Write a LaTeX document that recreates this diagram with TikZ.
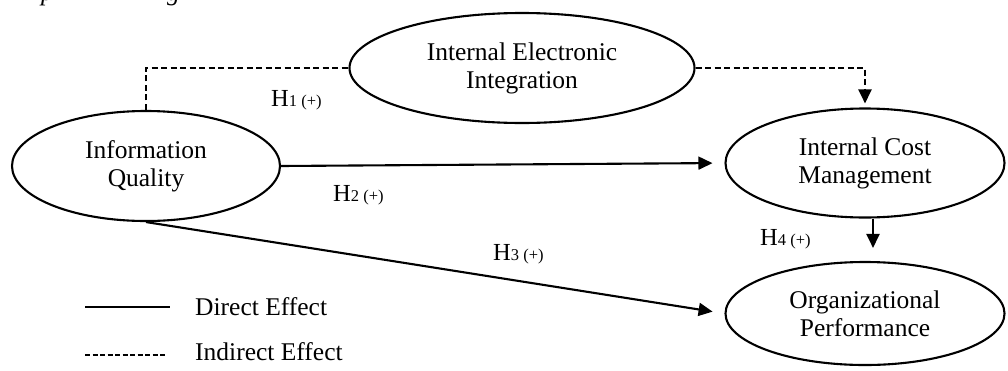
\documentclass[tikz,border=0pt]{standalone}
\usepackage{fontspec}
\setmainfont{Liberation Serif}
\usetikzlibrary{shapes.geometric,arrows.meta}
\begin{document}
\begin{tikzpicture}[x=1pt,y=-1pt,
  ell/.style={draw, ellipse, line width=2.1pt, inner sep=0pt, align=center,
    font=\fontsize{25.5}{28}\selectfont},
  conn/.style={line width=2.1pt, -{Triangle[width=13pt,length=14pt]}},
  dconn/.style={line width=2.1pt, dash pattern=on 6pt off 3.5pt},
  hlab/.style={anchor=base west, inner sep=0pt, font=\fontsize{24.5}{28}\selectfont},
  leg/.style={anchor=base west, inner sep=0pt, font=\fontsize{25.5}{28}\selectfont},
  frag/.style={anchor=base west, inner sep=0pt, font=\itshape\fontsize{25.5}{28}\selectfont}
]
\useasboundingbox (0,0) rectangle (1008,370);

% clipped caption fragments (cut off at the top edge, as in the reference)
\node[frag] (fp) at (41,0.5) {p};
\node[frag] (fg) at (167,0.5) {g};

\node[ell, minimum width=268pt, minimum height=110pt] (IQ) at (146,166) {Information\\Quality};
\node[ell, minimum width=345pt, minimum height=110pt] (IEI) at (522,68) {Internal Electronic\\Integration};
\node[ell, minimum width=279pt, minimum height=109pt] (ICM) at (865,163) {Internal Cost\\Management};
\node[ell, minimum width=279pt, minimum height=103pt] (OP) at (865,313.5) {Organizational\\Performance};

% indirect path
\draw[dconn] (IQ.north) |- (IEI.west);
\draw[dconn, -{Triangle[width=13pt,length=14pt]}, shorten >=4pt] (IEI.east) -| (ICM.north);

% direct paths
\draw[conn, shorten >=12pt] (IQ.east) -- (ICM.west);
\draw[conn, shorten >=12pt] (IQ.south) -- (OP.west);
\draw[conn, shorten >=13pt] ([xshift=8pt]ICM.south) -- ([xshift=8pt]OP.north);

% hypothesis labels
\node[hlab] (h1) at (271,106) {H\fontsize{16.5}{16}\selectfont 1 (+)};
\node[hlab] (h2) at (333,201) {H\fontsize{16.5}{16}\selectfont 2 (+)};
\node[hlab] (h3) at (493,260) {H\fontsize{16.5}{16}\selectfont 3 (+)};
\node[hlab] (h4) at (760,245) {H\fontsize{16.5}{16}\selectfont 4 (+)};

% legend
\coordinate (l1a) at (85,307);
\coordinate (l1b) at (170,307);
\coordinate (l2a) at (85,355);
\coordinate (l2b) at (166,355);
\draw[line width=2.1pt] (l1a) -- (l1b);
\draw[line width=2.1pt, dash pattern=on 5pt off 2.5pt] (l2a) -- (l2b);
\node[leg] (ld) at (195,315) {Direct Effect};
\node[leg] (li) at (195,360) {Indirect Effect};
\end{tikzpicture}
\end{document}
